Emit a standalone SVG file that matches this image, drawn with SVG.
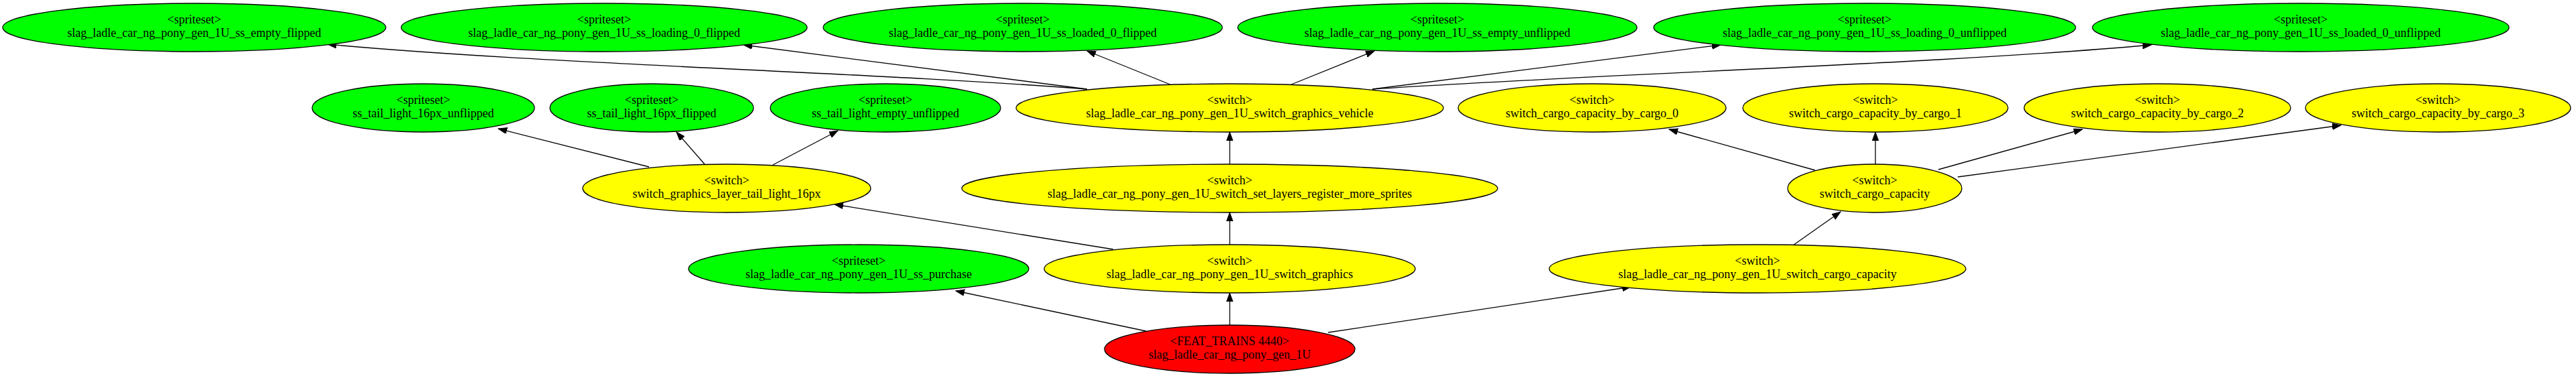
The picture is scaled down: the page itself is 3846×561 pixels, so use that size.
<svg xmlns="http://www.w3.org/2000/svg" width="3846" height="561" viewBox="0 0 3846 561">
<style>
.n ellipse{stroke:#000;stroke-width:1.3}
.ss ellipse{fill:#00ff00}
.sw ellipse{fill:#ffff00}
.ft ellipse{fill:#ff0000}
text{font-family:"Liberation Serif","Times New Roman",serif;font-size:18px;fill:#000;text-anchor:middle}
#edges path{fill:none;stroke:#000;stroke-width:1.3;marker-end:url(#ah)}
</style>
<defs>
<marker id="ah" markerUnits="userSpaceOnUse" markerWidth="14" markerHeight="10" refX="13" refY="4.7" orient="auto" viewBox="0 0 14 10">
<path d="M0,0 L13,4.7 L0,9.4 z" fill="#000" stroke="#000" stroke-width="1"/>
</marker>
</defs>
<rect width="3846" height="561" fill="#fff"/>
<g id="edges">
<path d="M1623,133 C1300,108 800,95 489,66"/>
<path d="M1623,133 L1110,67"/>
<path d="M1747,126 L1623,76"/>
<path d="M1928,126 L2052,76"/>
<path d="M2049,133 L2569,67"/>
<path d="M2049,133 C2400,110 2900,95 3212,67"/>
<path d="M969,249 L744,192"/>
<path d="M1052,245 L1010,197"/>
<path d="M1154,246 L1251,195"/>
<path d="M1662,372 L1246,305"/>
<path d="M1836,365 L1836,317"/>
<path d="M1836,245 L1836,197"/>
<path d="M1836,485 L1836,437"/>
<path d="M1711,494 L1427,434"/>
<path d="M1983,496 L2435,428"/>
<path d="M2677,366 L2748,316"/>
<path d="M2710,254 L2492,193"/>
<path d="M2800,245 L2800,197"/>
<path d="M2894,253 L3109,193"/>
<path d="M2923,264 L3495,187"/>
</g>
<g id="n1" class="n ss"><ellipse cx="290" cy="41" rx="286" ry="36"/><text x="290" y="35">&lt;spriteset&gt;</text><text x="290" y="55">slag_ladle_car_ng_pony_gen_1U_ss_empty_flipped</text></g>
<g id="n2" class="n ss"><ellipse cx="902" cy="41" rx="303" ry="36"/><text x="902" y="35">&lt;spriteset&gt;</text><text x="902" y="55">slag_ladle_car_ng_pony_gen_1U_ss_loading_0_flipped</text></g>
<g id="n3" class="n ss"><ellipse cx="1527" cy="41" rx="298" ry="36"/><text x="1527" y="35">&lt;spriteset&gt;</text><text x="1527" y="55">slag_ladle_car_ng_pony_gen_1U_ss_loaded_0_flipped</text></g>
<g id="n4" class="n ss"><ellipse cx="2146" cy="41" rx="298" ry="36"/><text x="2146" y="35">&lt;spriteset&gt;</text><text x="2146" y="55">slag_ladle_car_ng_pony_gen_1U_ss_empty_unflipped</text></g>
<g id="n5" class="n ss"><ellipse cx="2784" cy="41" rx="315" ry="36"/><text x="2784" y="35">&lt;spriteset&gt;</text><text x="2784" y="55">slag_ladle_car_ng_pony_gen_1U_ss_loading_0_unflipped</text></g>
<g id="n6" class="n ss"><ellipse cx="3435" cy="41" rx="311" ry="36"/><text x="3435" y="35">&lt;spriteset&gt;</text><text x="3435" y="55">slag_ladle_car_ng_pony_gen_1U_ss_loaded_0_unflipped</text></g>
<g id="n7" class="n ss"><ellipse cx="632" cy="161" rx="166" ry="36"/><text x="632" y="155">&lt;spriteset&gt;</text><text x="632" y="175">ss_tail_light_16px_unflipped</text></g>
<g id="n8" class="n ss"><ellipse cx="973" cy="161" rx="152" ry="36"/><text x="973" y="155">&lt;spriteset&gt;</text><text x="973" y="175">ss_tail_light_16px_flipped</text></g>
<g id="n9" class="n ss"><ellipse cx="1322" cy="161" rx="172" ry="36"/><text x="1322" y="155">&lt;spriteset&gt;</text><text x="1322" y="175">ss_tail_light_empty_unflipped</text></g>
<g id="n10" class="n sw"><ellipse cx="1836" cy="161" rx="319" ry="36"/><text x="1836" y="155">&lt;switch&gt;</text><text x="1836" y="175">slag_ladle_car_ng_pony_gen_1U_switch_graphics_vehicle</text></g>
<g id="n11" class="n sw"><ellipse cx="2377" cy="161" rx="200" ry="36"/><text x="2377" y="155">&lt;switch&gt;</text><text x="2377" y="175">switch_cargo_capacity_by_cargo_0</text></g>
<g id="n12" class="n sw"><ellipse cx="2800" cy="161" rx="198" ry="36"/><text x="2800" y="155">&lt;switch&gt;</text><text x="2800" y="175">switch_cargo_capacity_by_cargo_1</text></g>
<g id="n13" class="n sw"><ellipse cx="3221" cy="161" rx="199" ry="36"/><text x="3221" y="155">&lt;switch&gt;</text><text x="3221" y="175">switch_cargo_capacity_by_cargo_2</text></g>
<g id="n14" class="n sw"><ellipse cx="3640" cy="161" rx="198" ry="36"/><text x="3640" y="155">&lt;switch&gt;</text><text x="3640" y="175">switch_cargo_capacity_by_cargo_3</text></g>
<g id="n15" class="n sw"><ellipse cx="1085" cy="281" rx="215" ry="36"/><text x="1085" y="275">&lt;switch&gt;</text><text x="1085" y="295">switch_graphics_layer_tail_light_16px</text></g>
<g id="n16" class="n sw"><ellipse cx="1836" cy="281" rx="400" ry="36"/><text x="1836" y="275">&lt;switch&gt;</text><text x="1836" y="295">slag_ladle_car_ng_pony_gen_1U_switch_set_layers_register_more_sprites</text></g>
<g id="n17" class="n sw"><ellipse cx="2799" cy="281" rx="130" ry="36"/><text x="2799" y="275">&lt;switch&gt;</text><text x="2799" y="295">switch_cargo_capacity</text></g>
<g id="n18" class="n ss"><ellipse cx="1282" cy="401" rx="254" ry="36"/><text x="1282" y="395">&lt;spriteset&gt;</text><text x="1282" y="415">slag_ladle_car_ng_pony_gen_1U_ss_purchase</text></g>
<g id="n19" class="n sw"><ellipse cx="1836" cy="401" rx="277" ry="36"/><text x="1836" y="395">&lt;switch&gt;</text><text x="1836" y="415">slag_ladle_car_ng_pony_gen_1U_switch_graphics</text></g>
<g id="n20" class="n sw"><ellipse cx="2624" cy="401" rx="311" ry="36"/><text x="2624" y="395">&lt;switch&gt;</text><text x="2624" y="415">slag_ladle_car_ng_pony_gen_1U_switch_cargo_capacity</text></g>
<g id="n21" class="n ft"><ellipse cx="1836" cy="521" rx="187" ry="36"/><text x="1836" y="515">&lt;FEAT_TRAINS 4440&gt;</text><text x="1836" y="535">slag_ladle_car_ng_pony_gen_1U</text></g>
</svg>
